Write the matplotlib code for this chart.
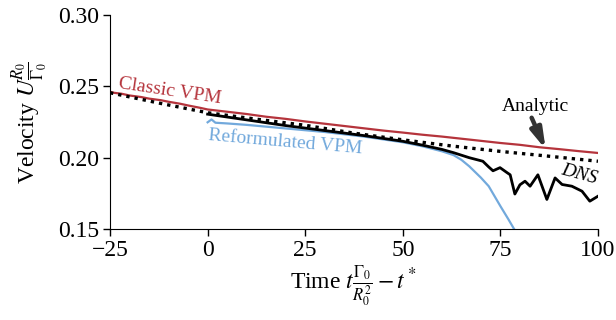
import numpy as np
import matplotlib
matplotlib.use("Agg")
import matplotlib.pyplot as plt

plt.rcParams["font.family"] = "serif"
plt.rcParams["font.serif"] = ["Liberation Serif", "DejaVu Serif"]
plt.rcParams["mathtext.fontset"] = "stix"

# Classic VPM (red)
classic_t = [-25, -24, -22, -20, -17, -15, -12, -10, -7, -5, -2, 0, 5, 10, 15, 20, 25, 30, 35,
             40, 45, 50, 55, 60, 65, 70, 75, 80, 85, 90, 95, 100]
classic_u = [0.2462, 0.2455, 0.2448, 0.2436, 0.2425, 0.2414, 0.2403, 0.2392, 0.2378, 0.2366, 0.2350,
             0.2338, 0.2322, 0.2306, 0.2287, 0.2272, 0.2254, 0.2238, 0.2222, 0.2206, 0.2190, 0.2176,
             0.2161, 0.2148, 0.2133, 0.2118, 0.2103, 0.2090, 0.2073, 0.2060, 0.2046, 0.2033]

# Analytic (dotted black)
analytic_t = [-25, -12.5, 0, 12.5, 25, 37.5, 50, 62.5, 75, 87.5, 100]
analytic_u = [0.2455, 0.2383, 0.2315, 0.2270, 0.2227, 0.2172, 0.2125, 0.2082, 0.2044, 0.2010, 0.1975]

# DNS (solid black)
dns_t = [0, 10, 20, 30, 40, 50, 55, 60, 63, 67, 70.5, 72, 73.1, 74.9, 76.7, 77.5, 78.7, 80, 81.3,
         82.6, 84.6, 86.9, 89, 90.8, 93.3, 95.9, 97.9, 100]
dns_u = [0.2305, 0.2265, 0.2225, 0.2190, 0.2155, 0.2115, 0.2088, 0.2058, 0.2035, 0.2000, 0.1975,
         0.1935, 0.1908, 0.1930, 0.1895, 0.1880, 0.1745, 0.1810, 0.1835, 0.1800, 0.1880, 0.1707,
         0.1858, 0.1812, 0.1800, 0.1765, 0.1695, 0.1730]

# Reformulated VPM (blue)
reform_t = [0, 1, 2, 5, 10, 20, 30, 40, 50, 55, 60, 63, 65, 67, 70, 72, 75, 77, 78.5, 79.5]
reform_u = [0.2248, 0.2268, 0.2245, 0.2240, 0.2230, 0.2205, 0.2180, 0.2148, 0.2108, 0.2080,
            0.2045, 0.2018, 0.1985, 0.1940, 0.1860, 0.1800, 0.1660, 0.1570, 0.1500, 0.1460]

red = "#b5343c"
blue = "#72a9dc"

fig = plt.figure(figsize=(6.16, 3.2), dpi=100)
ax = fig.add_axes([0.1786, 0.2844, 0.7922, 0.6686])

ax.plot(classic_t, classic_u, color=red, lw=1.6, zorder=2)
ax.plot(reform_t, reform_u, color=blue, lw=1.6, zorder=2)
ax.plot(dns_t, dns_u, color="black", lw=2.0, zorder=3)
ax.plot(analytic_t, analytic_u, color="black", lw=2.4, ls=(0, (1, 1.5)), zorder=4)

ax.set_xlim(-25, 100)
ax.set_ylim(0.15, 0.30)
ax.set_xticks([-25, 0, 25, 50, 75, 100])
ax.set_yticks([0.15, 0.20, 0.25, 0.30])
ax.set_yticklabels(["0.15", "0.20", "0.25", "0.30"])
ax.tick_params(labelsize=17, direction="out", length=5, width=1, pad=3)
for s in ["top", "right"]:
    ax.spines[s].set_visible(False)

ax.set_ylabel(r"Velocity $U\frac{R_0}{\Gamma_0}$", fontsize=17, labelpad=6)
ax.set_xlabel(r"Time $t\frac{\Gamma_0}{R_0^2} - t^*$", fontsize=17, labelpad=2)

ax.text(-9.6, 0.2466, "Classic VPM", color=red, fontsize=14, rotation=-8.5,
        ha="center", va="center", rotation_mode="anchor")
ax.text(20, 0.2110, "Reformulated VPM", color=blue, fontsize=14, rotation=-5,
        ha="center", va="center", rotation_mode="anchor")
ax.text(95.3, 0.1885, "DNS", color="black", fontsize=14, rotation=-15, style="italic",
        ha="center", va="center", rotation_mode="anchor")
ax.text(84, 0.2362, "Analytic", fontsize=14, ha="center", va="center")
ax.annotate("", xy=(86.6, 0.2058), xytext=(83.0, 0.2280),
            arrowprops=dict(arrowstyle="-|>,head_length=0.6,head_width=0.17", lw=3.2,
                            mutation_scale=20, color="#333333", shrinkA=0, shrinkB=0),
            zorder=5)

fig.savefig("out.png", dpi=100)
